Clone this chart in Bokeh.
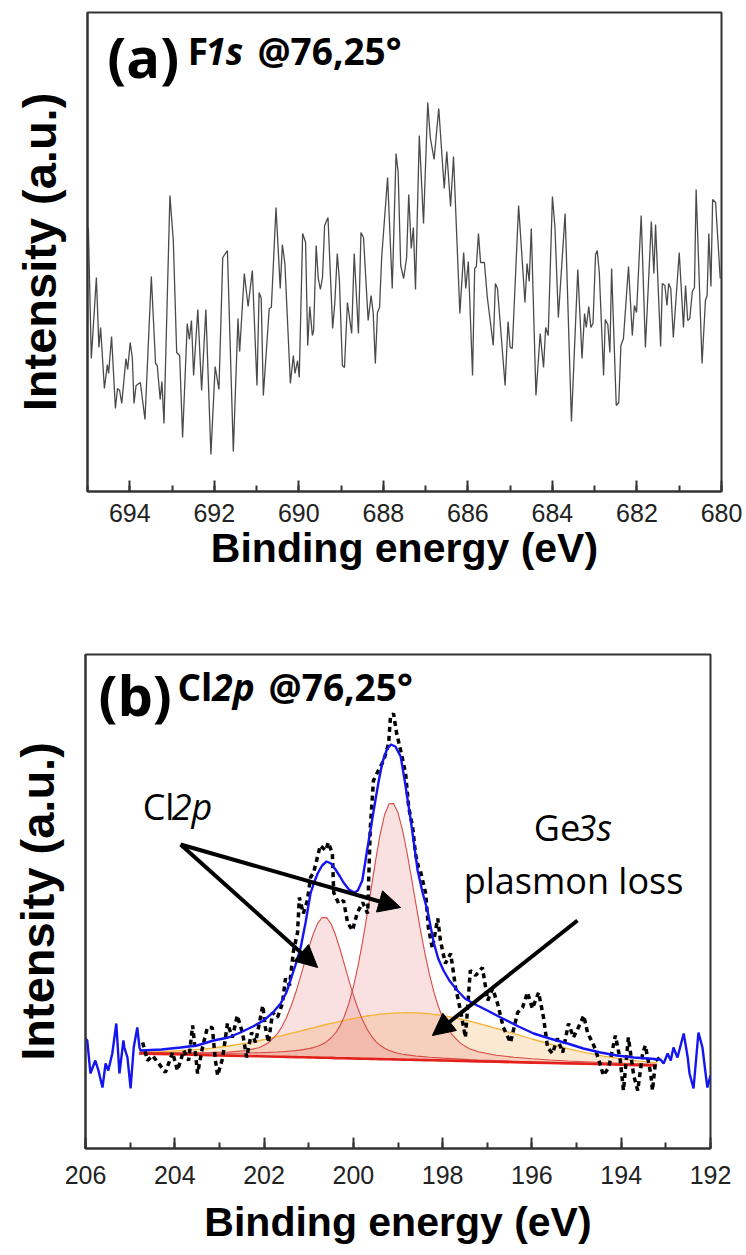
from bokeh.plotting import figure
from bokeh.models import Range1d, Label, Arrow, NormalHead, SingleIntervalTicker, FixedTicker
from bokeh.embed import file_html
from bokeh.resources import INLINE

# ---------------- panel (a): F1s ----------------
f1s_energy = [694.98, 694.91, 694.79, 694.73, 694.69, 694.60, 694.53, 694.50, 694.43, 694.34,
              694.29, 694.24, 694.19, 694.09, 694.05, 693.99, 693.94, 693.90, 693.85, 693.75,
              693.64, 693.49, 693.39, 693.35, 693.28, 693.24, 693.19, 693.05, 692.97, 692.89,
              692.82, 692.75, 692.64, 692.59, 692.54, 692.49, 692.39, 692.30, 692.20, 692.08,
              691.98, 691.89, 691.80, 691.69, 691.55, 691.44, 691.40, 691.29, 691.20, 691.10,
              690.99, 690.94, 690.89, 690.84, 690.70, 690.65, 690.54, 690.44, 690.39, 690.33,
              690.20, 690.13, 690.09, 690.03, 689.99,
              689.91, 689.84, 689.79, 689.74, 689.68, 689.65, 689.59, 689.54, 689.49, 689.44,
              689.39, 689.31, 689.20, 689.15, 689.09, 689.04, 688.97, 688.92, 688.85, 688.75,
              688.69, 688.59, 688.53, 688.47, 688.36, 688.29, 688.24, 688.19, 688.14, 688.09,
              688.04, 687.90, 687.79, 687.70, 687.65, 687.59, 687.52, 687.45, 687.40, 687.34,
              687.29, 687.24, 687.15, 687.05, 686.95, 686.89, 686.80, 686.69, 686.56, 686.50,
              686.41, 686.34, 686.19, 686.10, 686.05, 685.99, 685.89, 685.84, 685.80, 685.75,
              685.70, 685.61, 685.54, 685.40, 685.35, 685.30, 685.12,
              685.05, 685.00, 684.95, 684.80, 684.65, 684.60, 684.55, 684.50, 684.39, 684.29,
              684.21, 684.16, 684.10, 684.00, 683.94, 683.86, 683.80, 683.70, 683.55, 683.40,
              683.30, 683.24, 683.20, 683.14, 683.09, 683.04, 682.98, 682.94, 682.89, 682.79,
              682.75, 682.69, 682.64, 682.60, 682.49, 682.43, 682.38, 682.32, 682.20, 682.11,
              682.06, 682.01, 681.90, 681.80, 681.66, 681.60, 681.56, 681.44, 681.40, 681.34,
              681.29, 681.25, 681.20, 681.14, 681.00, 680.90, 680.85, 680.80, 680.75, 680.69,
              680.64, 680.60, 680.46, 680.38, 680.34, 680.30, 680.25, 680.21, 680.14, 680.03]
f1s_intensity = [264, 133, 214, 144, 164, 103, 127, 118, 155, 83,
                 103, 101, 88, 133, 122, 149, 134, 88, 106, 109,
                 72, 215, 128, 126, 92, 110, 68, 296, 251, 139,
                 136, 54, 168, 152, 171, 116, 182, 101, 182, 37,
                 125, 102, 234, 241, 40, 173, 140, 218, 185, 221,
                 106, 199, 193, 96, 183, 184, 284, 203, 247, 228,
                 108, 136, 118, 131, 114,
                 258, 249, 146, 185, 156, 161, 246, 213, 202, 214,
                 266, 274, 163, 188, 238, 211, 126, 124, 189, 158,
                 238, 158, 259, 254, 171, 196, 178, 128, 179, 184,
                 234, 314, 203, 338, 319, 226, 213, 234, 297, 243,
                 264, 202, 356, 268, 389, 354, 332, 383, 303, 340,
                 285, 335, 178, 239, 203, 230, 116, 223, 225, 258,
                 229, 229, 194, 146, 208, 203, 106,
                 170, 144, 143, 286, 189, 228, 210, 263, 96, 158,
                 124, 164, 156, 295, 264, 174, 213, 278, 70, 222,
                 133, 178, 164, 185, 164, 168, 237, 241, 218, 116,
                 172, 167, 139, 223, 86, 89, 146, 153, 225, 156,
                 186, 179, 276, 144, 270, 218, 267, 145, 208, 206,
                 186, 208, 203, 154, 239, 164, 206, 171, 173, 200,
                 204, 302, 128, 191, 196, 258, 205, 292, 289, 213]

# ---------------- panel (b): Cl2p ----------------
cl_data_energy = [204.72, 204.61, 204.50, 204.36, 204.21, 204.05, 203.94, 203.80, 203.69, 203.60,
                  203.49, 203.38, 203.27, 203.16, 203.09, 203.04, 202.93, 202.82, 202.71, 202.60,
                  202.48, 202.39, 202.28, 202.19, 202.03, 201.97, 201.90, 201.81, 201.70, 201.59,
                  201.52, 201.43, 201.34, 201.25, 201.21, 201.12, 201.03, 200.96, 200.89, 200.74,
                  200.62, 200.56, 200.47, 200.44, 200.33, 200.22, 200.13, 200.02, 199.91, 199.79,
                  199.68, 199.62, 199.55, 199.44, 199.32, 199.21, 199.17, 199.10, 199.03, 198.94,
                  198.83, 198.76, 198.67, 198.61, 198.54, 198.50, 198.38, 198.32, 198.23, 198.11,
                  198.05, 197.94, 197.82, 197.71, 197.60, 197.49, 197.38, 197.26, 197.11, 196.99,
                  196.88, 196.77, 196.64, 196.48, 196.32, 196.21, 196.10, 195.99, 195.85, 195.74,
                  195.65, 195.54, 195.43, 195.31, 195.18, 195.07, 194.96, 194.84, 194.75, 194.64,
                  194.51, 194.40, 194.28, 194.13, 194.02, 193.95, 193.84, 193.72, 193.63, 193.52,
                  193.46, 193.34, 193.30, 193.23, 193.12]
cl_data_intensity = [108, 90, 95, 87, 78, 98, 80, 100, 90, 125,
                     77, 103, 123, 123, 90, 75, 92, 127, 113, 135,
                     117, 93, 118, 108, 145, 123, 108, 138, 133, 147,
                     172, 165, 200, 218, 253, 237, 250, 273, 278, 305,
                     300, 308, 297, 258, 247, 250, 228, 220, 238, 248,
                     237, 323, 370, 380, 390, 407, 433, 437, 417, 400,
                     377, 343, 323, 297, 283, 280, 257, 223, 202, 232,
                     210, 187, 197, 163, 140, 113, 180, 175, 183, 150,
                     162, 147, 123, 108, 138, 143, 158, 142, 158, 133,
                     103, 97, 112, 98, 127, 113, 123, 135, 117, 108,
                     92, 75, 83, 115, 90, 60, 113, 75, 60, 97,
                     105, 77, 60, 90, 93]

envelope_energy = [206.0, 205.96, 205.89, 205.78, 205.71, 205.62, 205.55, 205.49, 205.40, 205.31,
                   205.24, 205.15, 205.13, 205.06, 204.99, 204.92, 204.84, 204.79, 204.77, 204.3,
                   203.87, 203.5, 203.13, 202.8, 202.53, 202.25, 202.01, 201.8, 201.63, 201.5,
                   201.41, 201.3, 201.18, 201.07, 200.96, 200.88, 200.80, 200.70, 200.60, 200.50,
                   200.40, 200.30, 200.22, 200.10, 199.98, 199.90, 199.80, 199.70, 199.60, 199.50,
                   199.43, 199.35, 199.25, 199.16, 199.06, 198.94, 198.85, 198.72, 198.62, 198.56,
                   198.45, 198.34, 198.20, 198.10, 197.98, 197.85, 197.67, 197.50, 197.31, 197.00,
                   196.70, 196.30, 195.96, 195.60, 195.20, 194.85, 194.46, 194.10, 193.72, 193.40,
                   193.12, 193.05, 192.96, 192.89, 192.83, 192.74, 192.67, 192.60, 192.51, 192.47,
                   192.38, 192.27, 192.18, 192.11, 192.07, 192.0]
envelope_intensity = [112, 110, 77, 90, 80, 63, 87, 80, 97, 127,
                      77, 110, 103, 93, 62, 103, 123, 103, 100, 101,
                      103, 105, 110, 113, 118, 124, 130, 138, 147, 158,
                      170, 185, 203, 228, 257, 268, 277, 285, 289, 287,
                      281, 274, 268, 261, 258, 260, 270, 298, 325, 352,
                      370, 388, 401, 406, 404, 394, 370, 332, 300, 280,
                      258, 240, 208, 192, 180, 170, 160, 152, 147, 140,
                      133, 124, 117, 112, 107, 102, 98, 95, 93, 92,
                      91, 87, 97, 90, 103, 93, 105, 117, 93, 77,
                      62, 118, 103, 77, 63, 75]

comp_energy = [204.8, 204.4, 204.0, 203.6, 203.2, 202.8, 202.4, 202.1, 201.9, 201.7,
               201.6, 201.5, 201.4, 201.3, 201.2, 201.1, 201.0, 200.9, 200.8, 200.7,
               200.6, 200.5, 200.4, 200.3, 200.2, 200.1, 200.0, 199.9, 199.8, 199.7,
               199.6, 199.5, 199.4, 199.3, 199.2, 199.1, 199.0, 198.9, 198.8, 198.7,
               198.6, 198.5, 198.4, 198.3, 198.2, 198.1, 198.0, 197.8, 197.6, 197.4,
               197.2, 196.8, 196.4, 196.0, 195.6, 195.2, 194.8, 194.4, 194.0, 193.6, 193.2]
background = [97.0, 96.6, 96.2, 95.8, 95.3, 94.9, 94.5, 94.2, 94.0, 93.8,
              93.7, 93.6, 93.5, 93.4, 93.3, 93.2, 93.1, 93.0, 92.9, 92.8,
              92.7, 92.6, 92.4, 92.3, 92.2, 92.1, 92.0, 91.9, 91.8, 91.7,
              91.6, 91.5, 91.4, 91.3, 91.2, 91.1, 91.0, 90.9, 90.8, 90.7,
              90.6, 90.5, 90.4, 90.3, 90.2, 90.1, 90.0, 89.8, 89.6, 89.3,
              89.1, 88.7, 88.3, 87.9, 87.5, 87.1, 86.7, 86.2, 85.8, 85.4, 85.0]
cl2p32_peak = [1.0, 1.2, 1.4, 1.6, 1.9, 2.4, 3.0, 3.6, 4.1, 4.7,
               5.1, 5.5, 6.0, 6.5, 7.1, 7.9, 8.8, 9.9, 11.4, 13.4,
               16.1, 19.9, 25.1, 32.3, 42.1, 55.0, 71.5, 91.7, 115.4, 142.2,
               170.6, 199.1, 224.7, 244.6, 255.6, 255.8, 246.7, 229.8, 207.7, 182.4,
               156.3, 130.9, 107.5, 86.8, 69.0, 54.4, 42.7, 26.5, 17.5, 12.5,
               9.6, 6.6, 4.9, 3.8, 3.0, 2.4, 2.0, 1.7, 1.5, 1.3, 1.1]
cl2p12_peak = [1.0, 1.2, 1.5, 2.0, 2.6, 3.6, 5.4, 8.8, 13.8, 23.1,
               30.2, 39.2, 50.3, 63.3, 78.0, 93.6, 109.2, 123.3, 134.2, 140.2,
               140.2, 134.2, 123.3, 109.2, 93.6, 78.0, 63.3, 50.3, 39.2, 30.2,
               23.1, 17.7, 13.8, 10.9, 8.8, 7.3, 6.2, 5.4, 4.8, 4.4,
               3.9, 3.6, 3.3, 3.0, 2.8, 2.6, 2.4, 2.1, 1.8, 1.6,
               1.4, 1.2, 1.0, 0.8, 0.7, 0.6, 0.5, 0.5, 0.4, 0.4, 0.3]
ge3s_plasmon = [1.4, 2.2, 3.3, 4.9, 6.9, 9.6, 12.9, 15.8, 17.9, 20.1,
                21.2, 22.4, 23.6, 24.8, 26.0, 27.3, 28.5, 29.7, 31.0, 32.2,
                33.4, 34.6, 35.8, 36.9, 38.0, 39.1, 40.0, 41.0, 41.9, 42.8,
                43.5, 44.2, 44.9, 45.4, 45.9, 46.3, 46.6, 46.8, 46.95, 47.0,
                46.95, 46.8, 46.6, 46.3, 45.9, 45.4, 44.9, 43.5, 41.9, 40.0,
                38.0, 33.4, 28.5, 23.6, 19.0, 14.8, 11.2, 8.2, 5.8, 4.0, 2.7]

TICK_FONT = "Liberation Sans"
TEXT_FONT = "Open Sans"
FRAME = "#333333"


def style(p, tick_standoff, title_standoff):
    p.xgrid.grid_line_color = None
    p.ygrid.grid_line_color = None
    p.outline_line_color = FRAME
    p.outline_line_width = 2
    p.background_fill_color = "white"
    p.border_fill_color = "white"
    xa = p.xaxis[0]
    xa.ticker = SingleIntervalTicker(interval=2, num_minor_ticks=2)
    xa.axis_line_color = FRAME
    xa.axis_line_width = 2
    xa.major_tick_in = 11
    xa.major_tick_out = 0
    xa.minor_tick_in = 6
    xa.minor_tick_out = 0
    xa.major_tick_line_width = 2
    xa.minor_tick_line_width = 2
    xa.major_tick_line_color = FRAME
    xa.minor_tick_line_color = FRAME
    xa.major_label_text_font = TICK_FONT
    xa.major_label_text_font_size = "25px"
    xa.major_label_text_color = "#222222"
    xa.major_label_standoff = tick_standoff
    xa.axis_label = "Binding energy (eV)"
    xa.axis_label_text_font = TICK_FONT
    xa.axis_label_text_font_style = "bold"
    xa.axis_label_text_font_size = "41px"
    xa.axis_label_text_color = "black"
    xa.axis_label_standoff = title_standoff
    ya = p.yaxis[0]
    ya.ticker = FixedTicker(ticks=[])
    ya.major_tick_line_color = None
    ya.minor_tick_line_color = None
    ya.major_label_standoff = 0
    ya.axis_line_color = FRAME
    ya.axis_line_width = 2
    ya.axis_label = "Intensity (a.u.)"
    ya.axis_label_text_font = TICK_FONT
    ya.axis_label_text_font_style = "bold"
    ya.axis_label_text_font_size = "47px"
    ya.axis_label_text_color = "black"
    ya.axis_label_standoff = 22


def lab(p, x, y, text, size, style_, font=TEXT_FONT):
    p.add_layout(Label(x=x, y=y, text=text, text_font=font, text_font_size=size,
                       text_font_style=style_, text_color="black",
                       text_baseline="alphabetic", text_align="left"))


# ---- figure (a)
p1 = figure(width=746, height=580, output_backend="svg", toolbar_location=None,
            x_range=Range1d(695, 680), y_range=Range1d(0, 479),
            min_border_left=87, min_border_right=25, min_border_top=12, min_border_bottom=89)
style(p1, 12, 0)
p1.line(f1s_energy, f1s_intensity, line_color="#4a4a4a", line_width=1.3)

lab(p1, 694.53, 436, "(a)", "56px", "bold")
lab(p1, 692.63, 441, "F", "37px", "bold")
lab(p1, 692.21, 441, "1s", "37px", "bold italic")
lab(p1, 690.98, 441, "@76,25°", "37px", "bold")

# ---- figure (b)
p2 = figure(width=746, height=674, output_backend="svg", toolbar_location=None,
            x_range=Range1d(206, 192), y_range=Range1d(2, 496),
            min_border_left=85, min_border_right=36, min_border_top=74, min_border_bottom=106)
style(p2, 17, 12)

n = len(comp_energy)
orange_top = [background[i] + ge3s_plasmon[i] for i in range(n)]
p32_top = [background[i] + cl2p32_peak[i] for i in range(n)]
p12_top = [background[i] + cl2p12_peak[i] for i in range(n)]

p2.varea(x=comp_energy, y1=background, y2=orange_top, fill_color="#f5a84a", fill_alpha=0.25)
p2.varea(x=comp_energy, y1=background, y2=p12_top, fill_color="#e06a6a", fill_alpha=0.2)
p2.varea(x=comp_energy, y1=background, y2=p32_top, fill_color="#e06a6a", fill_alpha=0.2)
p2.line(comp_energy, orange_top, line_color="#f5b335", line_width=1.3)
p2.line(comp_energy, p12_top, line_color="#d84a45", line_width=1.1)
p2.line(comp_energy, p32_top, line_color="#d84a45", line_width=1.1)
p2.line(comp_energy, background, line_color="#e3201b", line_width=2.6)

p2.line(cl_data_energy, cl_data_intensity, line_color="black", line_width=3.5, line_dash="5 4")
p2.line(envelope_energy, envelope_intensity, line_color="#1515f0", line_width=2.4)

for xs, ys, xe, ye in [(203.87, 306, 200.80, 183), (203.87, 306, 198.94, 243), (194.98, 230, 198.23, 115)]:
    p2.add_layout(Arrow(end=NormalHead(size=22, fill_color="black", line_color="black", line_width=1),
                        x_start=xs, y_start=ys, x_end=xe, y_end=ye,
                        line_color="black", line_width=4))

lab(p2, 205.71, 457, "(b)", "56px", "bold")
lab(p2, 203.94, 464, "Cl", "37px", "bold")
lab(p2, 203.16, 464, "2p", "37px", "bold italic")
lab(p2, 201.90, 464, "@76,25°", "37px", "bold")

lab(p2, 204.72, 344, "Cl", "36px", "normal")
lab(p2, 204.07, 344, "2p", "36px", "italic")
lab(p2, 195.96, 323, "Ge", "36px", "normal")
lab(p2, 195.00, 323, "3s", "36px", "italic")
lab(p2, 197.53, 270, "plasmon loss", "36px", "normal")

open("out.html", "w").write(file_html([p1, p2], INLINE))
